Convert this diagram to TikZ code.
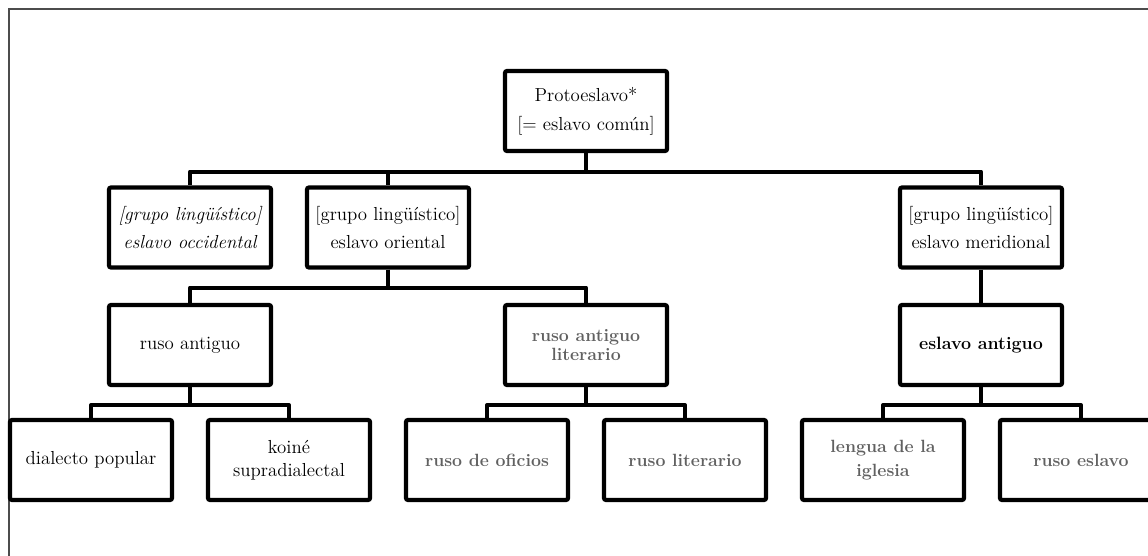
\documentclass[tikz,border=0pt]{standalone}
\usepackage{tikz}
\usetikzlibrary{positioning}
\tikzset{box/.style={
            draw,
            line width=3pt,
            rounded corners=1.5pt,
            fill=white,
            inner sep=0pt,
            minimum width=4.05cm,
            minimum height=2cm,
            align=center,
            font=\fontsize{13.4}{20.5}\selectfont
        },
        greybox/.style={
            box,
            text=black!62,
            font=\fontsize{12.6}{17}\selectfont\bfseries
        },
        boldbox/.style={
            box,
            font=\fontsize{12.7}{17}\selectfont\bfseries
        },
        link/.style={
            line width=3pt,
            line join=round
        },
        frame/.style={
            line width=0.8pt,
            black!70
        }
    }
\begin{document}
\begin{tikzpicture}[x=0.025cm,y=-0.025cm]
        \useasboundingbox (0,0) rectangle (1148,556);
        \draw[frame] (9,556) -- (9,9) -- (1148,9);

        \node[box] at (586,111) (proto) {Protoeslavo*\\{}[= eslavo común]};

        \node[box] at (190,227.5) (occ) {\itshape [grupo lingüístico]\\\itshape eslavo occidental};
        \node[box] at (388,227.5) (ori) {[grupo lingüístico]\\eslavo oriental};
        \node[box] at (981,227.5) (mer) {[grupo lingüístico]\\eslavo meridional};

        \node[box] at (190,345) (rant) {ruso antiguo};
        \node[greybox, font=\fontsize{12.6}{14}\selectfont\bfseries] at (586,345) (rlit) {ruso antiguo\\literario};
        \node[boldbox] at (981,345) (esant) {eslavo antiguo};

        \node[box] at (91,460) (dial) {dialecto popular};
        \node[box, font=\fontsize{13.4}{16.5}\selectfont] at (289,460) (koine) {koiné\\supradialectal};
        \node[greybox] at (487,460) (ofic) {ruso de oficios};
        \node[greybox] at (685,460) (rulit) {ruso literario};
        \node[greybox] at (883,460) (igl) {lengua de la\\iglesia};
        \node[greybox] at (1081,460) (rusl) {ruso eslavo};

        \draw[link] (proto.south) -- ++(0,18.5) -| (occ.north);
        \draw[link] (proto.south) -- ++(0,18.5) -| (ori.north);
        \draw[link] (proto.south) -- ++(0,18.5) -| (mer.north);

        \draw[link] (ori.south) -- ++(0,18) -| (rant.north);
        \draw[link] (ori.south) -- ++(0,18) -| (rlit.north);
        \draw[link] (mer.south) -- (esant.north);

        \draw[link] (rant.south) -- ++(0,18) -| (dial.north);
        \draw[link] (rant.south) -- ++(0,18) -| (koine.north);
        \draw[link] (rlit.south) -- ++(0,18) -| (ofic.north);
        \draw[link] (rlit.south) -- ++(0,18) -| (rulit.north);
        \draw[link] (esant.south) -- ++(0,18) -| (igl.north);
        \draw[link] (esant.south) -- ++(0,18) -| (rusl.north);
    \end{tikzpicture}
\end{document}
